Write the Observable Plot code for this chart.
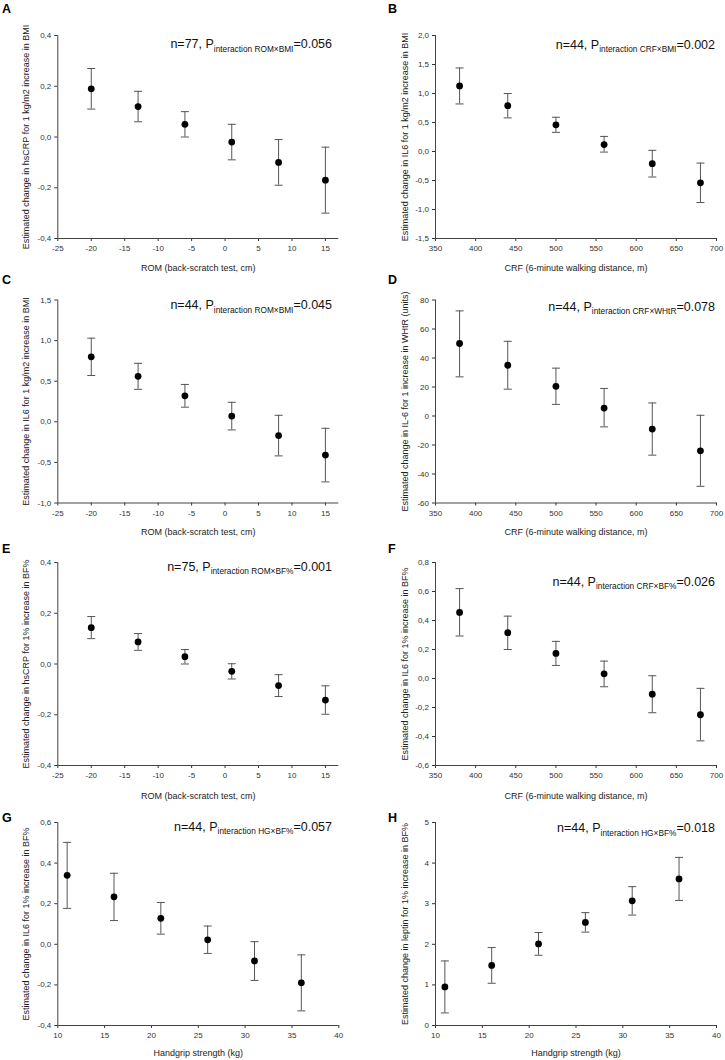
<!DOCTYPE html>
<html>
<head>
<meta charset="utf-8">
<script src="https://cdn.jsdelivr.net/npm/d3@7"></script>
<script src="https://cdn.jsdelivr.net/npm/@observablehq/plot@0.6"></script>
<style>
  html, body { margin: 0; padding: 0; background: #fff; }
  #root { position: relative; width: 725px; height: 1060px; overflow: hidden; background: #fff; }
  .cell { position: absolute; }
</style>
</head>
<body>
<div id="root"></div>
<script>
// ---------- data ----------
const romX = [-20, -13, -6, 1, 8, 15];
const crfX = [380, 440, 500, 560, 620, 680];
const hgX = [11, 16, 21, 26, 31, 36];

const romTicks = [-25, -20, -15, -10, -5, 0, 5, 10, 15];
const crfTicks = [350, 400, 450, 500, 550, 600, 650, 700];
const hgTicks = [10, 15, 20, 25, 30, 35, 40];

const aEst = [0.19, 0.12, 0.05, -0.02, -0.10, -0.17];
const aLo  = [0.11, 0.06, 0.00, -0.09, -0.19, -0.30];
const aHi  = [0.27, 0.18, 0.10, 0.05, -0.01, -0.04];

const bEst = [1.13, 0.79, 0.46, 0.12, -0.21, -0.54];
const bLo  = [0.82, 0.58, 0.33, -0.01, -0.44, -0.88];
const bHi  = [1.44, 1.00, 0.59, 0.26, 0.02, -0.20];

const cEst = [0.80, 0.56, 0.32, 0.07, -0.17, -0.41];
const cLo  = [0.57, 0.40, 0.18, -0.10, -0.42, -0.74];
const cHi  = [1.03, 0.72, 0.46, 0.24, 0.08, -0.08];

const dEst = [50, 35, 20.5, 5.5, -9, -24];
const dLo  = [27, 18.5, 8, -7.5, -27, -48.5];
const dHi  = [72.5, 51.5, 33, 19, 9, 0.5];

const eEst = [0.143, 0.087, 0.029, -0.029, -0.085, -0.142];
const eLo  = [0.100, 0.054, 0.000, -0.059, -0.128, -0.198];
const eHi  = [0.187, 0.120, 0.057, 0.001, -0.042, -0.086];

const fEst = [0.456, 0.316, 0.173, 0.032, -0.108, -0.250];
const fLo  = [0.293, 0.200, 0.090, -0.057, -0.236, -0.430];
const fHi  = [0.620, 0.430, 0.256, 0.120, 0.019, -0.068];

const gEst = [0.340, 0.234, 0.128, 0.022, -0.082, -0.190];
const gLo  = [0.177, 0.117, 0.050, -0.045, -0.178, -0.328];
const gHi  = [0.502, 0.350, 0.206, 0.090, 0.013, -0.052];

const hEst = [0.95, 1.48, 2.01, 2.54, 3.07, 3.61];
const hLo  = [0.31, 1.04, 1.73, 2.30, 2.72, 3.08];
const hHi  = [1.59, 1.92, 2.29, 2.78, 3.42, 4.14];

const romLabel = "ROM (back-scratch test, cm)";
const crfLabel = "CRF (6-minute walking distance, m)";
const hgLabel = "Handgrip strength (kg)";

const panelLetters = ["A", "B", "C", "D", "E", "F", "G", "H"];
const panelN = ["77", "44", "44", "44", "75", "44", "44", "44"];
const panelSub = ["interaction ROM×BMI", "interaction CRF×BMI", "interaction ROM×BMI", "interaction CRF×WHtR",
                  "interaction ROM×BF%", "interaction CRF×BF%", "interaction HG×BF%", "interaction HG×BF%"];
const panelP = ["0.056", "0.002", "0.045", "0.078", "0.001", "0.026", "0.057", "0.018"];
const yLabels = [
  "Estimated change in hsCRP for 1 kg/m2 increase in BMI",
  "Estimated change in IL6 for 1 kg/m2 increase in BMI",
  "Estimated change in IL6 for 1 kg/m2 increase in BMI",
  "Estimated change in IL-6 for 1 increase in WHtR (units)",
  "Estimated change in hsCRP for 1% increase in BF%",
  "Estimated change in IL6 for 1% increase in BF%",
  "Estimated change in IL6 for 1% increase in BF%",
  "Estimated change in leptin for 1% increase in BF%"
];
const yTicksA = [-0.4, -0.2, 0, 0.2, 0.4];
const yTicksB = [-1.5, -1.0, -0.5, 0, 0.5, 1.0, 1.5, 2.0];
const yTicksC = [-1.0, -0.5, 0, 0.5, 1.0, 1.5];
const yTicksD = [-60, -40, -20, 0, 20, 40, 60, 80];
const yTicksE = [-0.4, -0.2, 0, 0.2, 0.4];
const yTicksF = [-0.6, -0.4, -0.2, 0, 0.2, 0.4, 0.6, 0.8];
const yTicksG = [-0.4, -0.2, 0, 0.2, 0.4, 0.6];
const yTicksH = [0, 1, 2, 3, 4, 5];

// ---------- panel table built from the arrays ----------
const panels = [
  {x: romX, est: aEst, lo: aLo, hi: aHi, xTicks: romTicks, xDomain: [-25, 17], yTicks: yTicksA, dec: 1, xLabel: romLabel},
  {x: crfX, est: bEst, lo: bLo, hi: bHi, xTicks: crfTicks, xDomain: [350, 700], yTicks: yTicksB, dec: 1, xLabel: crfLabel},
  {x: romX, est: cEst, lo: cLo, hi: cHi, xTicks: romTicks, xDomain: [-25, 17], yTicks: yTicksC, dec: 1, xLabel: romLabel},
  {x: crfX, est: dEst, lo: dLo, hi: dHi, xTicks: crfTicks, xDomain: [350, 700], yTicks: yTicksD, dec: 0, xLabel: crfLabel},
  {x: romX, est: eEst, lo: eLo, hi: eHi, xTicks: romTicks, xDomain: [-25, 17], yTicks: yTicksE, dec: 1, xLabel: romLabel},
  {x: crfX, est: fEst, lo: fLo, hi: fHi, xTicks: crfTicks, xDomain: [350, 700], yTicks: yTicksF, dec: 1, xLabel: crfLabel},
  {x: hgX, est: gEst, lo: gLo, hi: gHi, xTicks: hgTicks, xDomain: [10, 40], yTicks: yTicksG, dec: 1, xLabel: hgLabel},
  {x: hgX, est: hEst, lo: hLo, hi: hHi, xTicks: hgTicks, xDomain: [10, 40], yTicks: yTicksH, dec: 0, xLabel: hgLabel}
];

// ---------- layout ----------
const FONT = '"Liberation Sans", Arial, Helvetica, sans-serif';
const rowTop = [0, 265, 530, 795];
const rowMT = [35, 34.5, 32, 27];
const rowXLabelDy = [30, 29, 31, 28];
const letterBase = [12.5, 18.5, 23, 27];
const annBase = [[48.3, 48.5], [44, 45.7], [40.7, 55.7], [35.7, 37.3]];
const plotH = 203;
const cellH = 265;
const cols = [
  {left: 0, width: 362, ml: 57.3, mr: 23.7, letterX: 2, annRight: 332, yDx: -32},
  {left: 362, width: 363, ml: 73, mr: 9, letterX: 26, annRight: 353, yDx: -30.5}
];

const capSymbol = {
  draw(context, size) {
    const w = Math.sqrt(size / Math.PI);
    context.moveTo(-w, 0);
    context.lineTo(w, 0);
  }
};

const root = document.getElementById("root");

panels.forEach((p, i) => {
  const row = Math.floor(i / 2), col = cols[i % 2];
  const data = p.x.map((x, j) => ({x, est: p.est[j], lo: p.lo[j], hi: p.hi[j]}));
  const yDomain = [p.yTicks[0], p.yTicks[p.yTicks.length - 1]];
  const fmtY = d => d.toFixed(p.dec).replace(".", ",");
  const mt = rowMT[row];
  const svg = Plot.plot({
    width: col.width,
    height: cellH,
    marginTop: mt,
    marginBottom: cellH - mt - plotH,
    marginLeft: col.ml,
    marginRight: col.mr,
    style: {fontFamily: FONT, overflow: "visible", background: "transparent", color: "#333"},
    x: {domain: p.xDomain},
    y: {domain: yDomain},
    marks: [
      Plot.axisX({ticks: p.xTicks, tickFormat: d => String(d), tickSize: 3, tickPadding: 4, fontSize: 8, label: null}),
      Plot.axisY({ticks: p.yTicks, tickFormat: fmtY, tickSize: 3, tickPadding: 3.5, fontSize: 8, label: null}),
      Plot.ruleX([p.xDomain[0]], {stroke: "#444", strokeWidth: 1}),
      Plot.ruleY([yDomain[0]], {stroke: "#444", strokeWidth: 1}),
      Plot.ruleX(data, {x: "x", y1: "lo", y2: "hi", stroke: "#555", strokeWidth: 1}),
      Plot.dot(data, {x: "x", y: "lo", r: 4, symbol: capSymbol, stroke: "#555", fill: "none", strokeWidth: 1}),
      Plot.dot(data, {x: "x", y: "hi", r: 4, symbol: capSymbol, stroke: "#555", fill: "none", strokeWidth: 1}),
      Plot.dot(data, {x: "x", y: "est", r: 3.4, fill: "#000", stroke: "none"}),
      Plot.text([yLabels[i]], {text: d => d, frameAnchor: "left", rotate: -90, dx: col.yDx, textAnchor: "middle", lineAnchor: "middle", fontSize: 9, fill: "#222"}),
      Plot.text([p.xLabel], {text: d => d, frameAnchor: "bottom", dy: rowXLabelDy[row], lineAnchor: "middle", fontSize: 9, fill: "#222"})
    ]
  });

  const s = d3.select(svg);
  // panel letter
  s.append("text")
    .attr("x", col.letterX).attr("y", letterBase[row])
    .attr("text-anchor", "start")
    .attr("font-family", FONT).attr("font-weight", "bold").attr("font-size", 12.5)
    .attr("fill", "#000")
    .text(panelLetters[i]);
  // annotation with subscript
  const t = s.append("text")
    .attr("x", col.annRight).attr("y", annBase[row][i % 2])
    .attr("text-anchor", "end")
    .attr("font-family", FONT).attr("font-size", 12.5).attr("fill", "#111");
  t.append("tspan").text("n=" + panelN[i] + ", P");
  t.append("tspan").attr("font-size", 8.3).attr("dy", 3.5).text(panelSub[i]);
  t.append("tspan").attr("font-size", 12.5).attr("dy", -3.5).text("=" + panelP[i]);

  const div = document.createElement("div");
  div.className = "cell";
  div.style.left = col.left + "px";
  div.style.top = rowTop[row] + "px";
  div.style.width = col.width + "px";
  div.style.height = cellH + "px";
  div.appendChild(svg);
  root.appendChild(div);
});
</script>
</body>
</html>
